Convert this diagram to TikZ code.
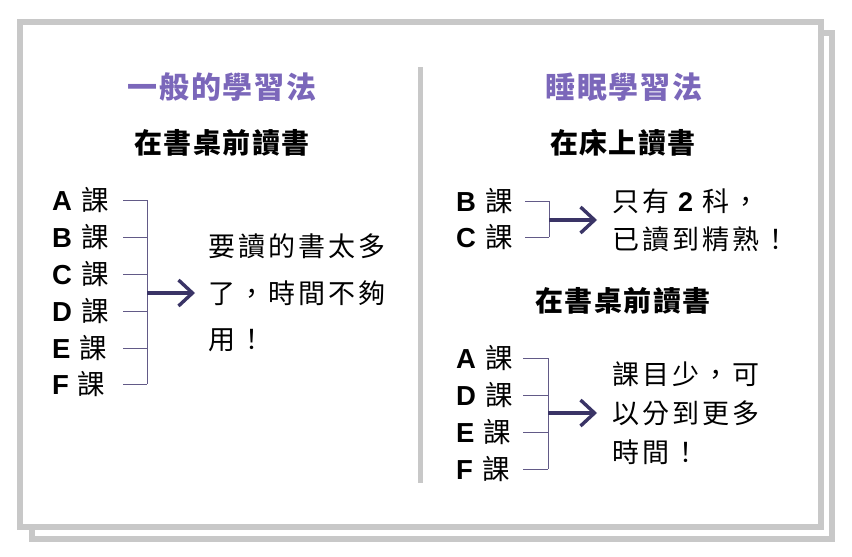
\documentclass[tikz,border=0pt]{standalone}
\usepackage{fontspec}
\setmainfont{Noto Sans CJK TC}
\newfontfamily\latin{Liberation Sans}
\usepackage{tikz}
\usetikzlibrary{arrows.meta, positioning}

\definecolor{titlepurple}{RGB}{123,103,186}
\definecolor{arrowblue}{RGB}{58,52,102}
\definecolor{bracketline}{RGB}{98,90,135}
\definecolor{framegray}{RGB}{200,200,200}

\newcommand{\course}[1]{{\latin\bfseries #1}\hspace{9pt}課}

\begin{document}
\begin{tikzpicture}[x=1pt, y=-1pt,
    frame/.style={draw=framegray, line width=6pt},
    divider/.style={draw=framegray, line width=5pt},
    heading/.style={inner sep=0pt, text=titlepurple,
      font=\fontsize{30}{36}\selectfont\bfseries\addfontfeature{LetterSpace=6}},
    subhead/.style={inner sep=0pt,
      font=\fontsize{28}{34}\selectfont\bfseries\addfontfeature{LetterSpace=5}},
    row/.style={inner sep=0pt, anchor=west, font=\fontsize{27.5}{30}\selectfont},
    result/.style={inner sep=0pt, anchor=west, align=left},
    brk/.style={draw=bracketline, line width=0.8pt},
    arr/.style={draw=arrowblue, line width=3.4pt,
      -{Straight Barb[length=14pt, width=26pt, line width=3.4pt]}}]

    % Frame with its shadow
    \useasboundingbox (0,0) rectangle (852,557);
    \draw[frame] (31.5,33) rectangle (831.5,539);
    \draw[frame, fill=white] (20,22) rectangle (821,527);

    % Divider
    \draw[divider] (420.5,67) -- (420.5,483);

    % Headings
    \node[heading] (genhead) at (222,87) {一般的學習法};
    \node[heading] (sleephead) at (624,87) {睡眠學習法};
    \node[subhead] (gendesk) at (222,143) {在書桌前讀書};
    \node[subhead] (sleepbed) at (623,143) {在床上讀書};
    \node[subhead] (sleepdesk) at (623,301) {在書桌前讀書};

    % Left: six courses at the desk
    \coordinate (genstart) at (123,0);
    \coordinate (genspine) at (147,0);
    \foreach \n/\y in {A/200, B/237, C/274, D/311, E/348, F/384} {
      \node[row] (gen\n) at (52,\y) {\course{\n}};
      \draw[brk] (gen\n.east -| genstart) -- (gen\n.east -| genspine);
    }
    \draw[brk] (genA.east -| genspine) -- (genF.east -| genspine);
    \node[result, font=\fontsize{27}{46.5}\selectfont\addfontfeature{LetterSpace=11}]
      (genres) at (208,293) {要讀的書太多\\了，時間不夠\\用！};
    \draw[arr] (genspine |- genres.west) -- ([xshift=-13pt]genres.west);

    % Right, top: two courses in bed
    \coordinate (bedstart) at (525,0);
    \coordinate (bedspine) at (549,0);
    \foreach \n/\y in {B/201, C/237} {
      \node[row] (bed\n) at (456,\y) {\course{\n}};
      \draw[brk] (bed\n.east -| bedstart) -- (bed\n.east -| bedspine);
    }
    \draw[brk] (bedB.east -| bedspine) -- (bedC.east -| bedspine);
    \node[result, font=\fontsize{27}{38}\selectfont\addfontfeature{LetterSpace=11}]
      (bedres) at (612,220) {只有 {\latin\bfseries 2} 科，\\已讀到精熟！};
    \draw[arr] (bedspine |- bedres.west) -- ([xshift=-15pt]bedres.west);

    % Right, bottom: four courses at the desk
    \coordinate (deskstart) at (523,0);
    \coordinate (deskspine) at (548,0);
    \foreach \n/\y in {A/358, D/395, E/432, F/469} {
      \node[row] (desk\n) at (456,\y) {\course{\n}};
      \draw[brk] (desk\n.east -| deskstart) -- (desk\n.east -| deskspine);
    }
    \draw[brk] (deskA.east -| deskspine) -- (deskF.east -| deskspine);
    \node[result, font=\fontsize{27}{39}\selectfont\addfontfeature{LetterSpace=11}]
      (deskres) at (612,413) {課目少，可\\以分到更多\\時間！};
    \draw[arr] (deskspine |- deskres.west) -- ([xshift=-15pt]deskres.west);

\end{tikzpicture}
\end{document}
